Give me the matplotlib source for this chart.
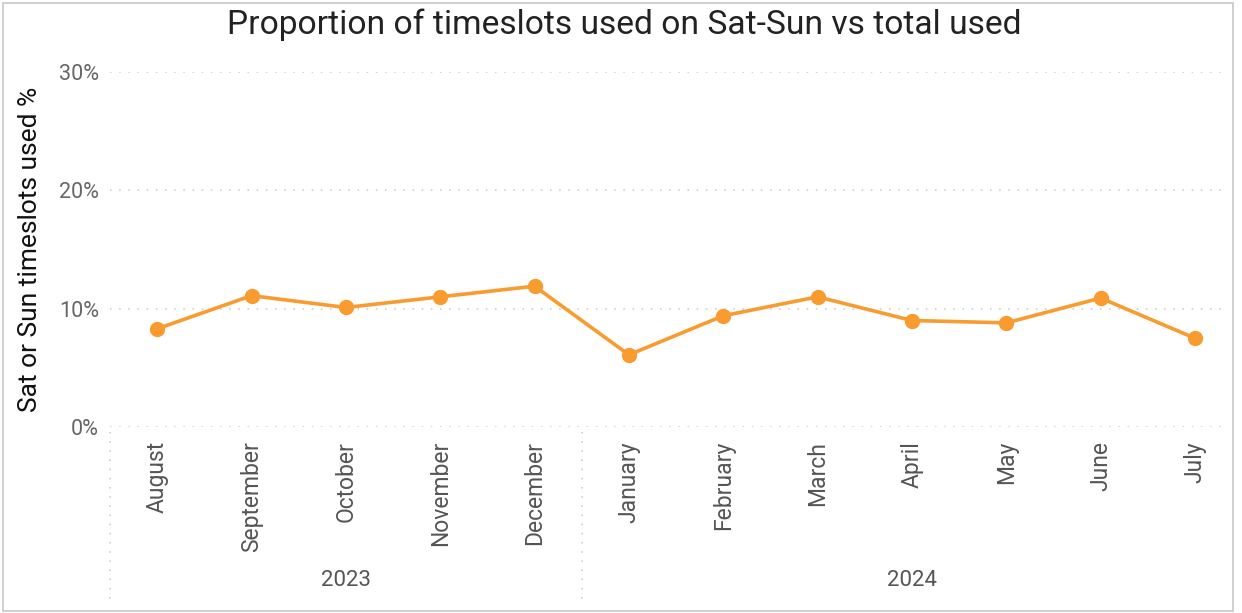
import matplotlib
matplotlib.use("Agg")
import matplotlib.pyplot as plt
import matplotlib.transforms as mtransforms

plt.rcParams['font.family'] = ['Roboto', 'DejaVu Sans']

months = ["August", "September", "October", "November", "December",
          "January", "February", "March", "April", "May", "June", "July"]
years = ["2023", "2024"]
year_counts = [5, 7]
values = [8.3, 11.1, 10.1, 11.0, 11.9, 6.1, 9.4, 11.0, 9.0, 8.8, 10.9, 7.5]
yticks = [0, 10, 20, 30]
ytick_labels = ["0%", "10%", "20%", "30%"]

W, H = 1242, 613
fig = plt.figure(figsize=(W / 100, H / 100), dpi=100)
fig.patch.set_facecolor("white")

# outer border
border = plt.Rectangle((3 / W, 2 / H), 1230 / W, 608 / H, transform=fig.transFigure,
                       fill=False, edgecolor="#c8c8c8", linewidth=1.2)
fig.patches.append(border)

ax = fig.add_axes([110 / W, (H - 427) / H, (1228 - 110) / W, 355 / H])
x = list(range(len(months)))
ax.plot(x, values, color="#F99B2E", linewidth=2.6, marker="o", markersize=10,
        solid_capstyle="round", zorder=3)
ax.set_xlim(-0.5, 11.35)
ax.set_ylim(0, 30)
ax.set_yticks(yticks)
ax.set_yticklabels(ytick_labels, color="#666666", fontsize=15.5)
ax.set_xticks(x)
ax.set_xticklabels(months, rotation=90, color="#555555", fontsize=16.5, va="top")
ax.tick_params(axis="both", length=0)
ax.tick_params(axis="x", pad=10)
ax.tick_params(axis="y", pad=8)
for s in ax.spines.values():
    s.set_visible(False)
ax.grid(axis="y", color="#c8c8c8", linestyle=(0, (1, 5)), linewidth=1.1)
ax.set_axisbelow(True)
ax.set_ylabel("Sat or Sun timeslots used %", fontsize=19, color="#111111")
ax.yaxis.set_label_coords(-68 / 1118, 0.5)

# year separators and labels
trans = mtransforms.blended_transform_factory(ax.transData, fig.transFigure)
start = 0
bounds = [-0.5]
for yr, n in zip(years, year_counts):
    center = start + (n - 1) / 2
    ax.text(center, (H - 581) / H, yr, transform=trans, ha="center", va="center",
            fontsize=16, color="#555555")
    start += n
    bounds.append(start - 0.5)
for b in bounds[:-1]:
    ax.plot([b, b], [(H - 432) / H, (H - 600) / H], transform=trans, color="#c8c8c8",
            linestyle=(0, (1, 5)), linewidth=1.1, clip_on=False)

fig.text(624 / W, (H - 25) / H, "Proportion of timeslots used on Sat-Sun vs total used",
         ha="center", va="center", fontsize=24.2, color="#222222")

fig.savefig("out.png", dpi=100, facecolor="white")
